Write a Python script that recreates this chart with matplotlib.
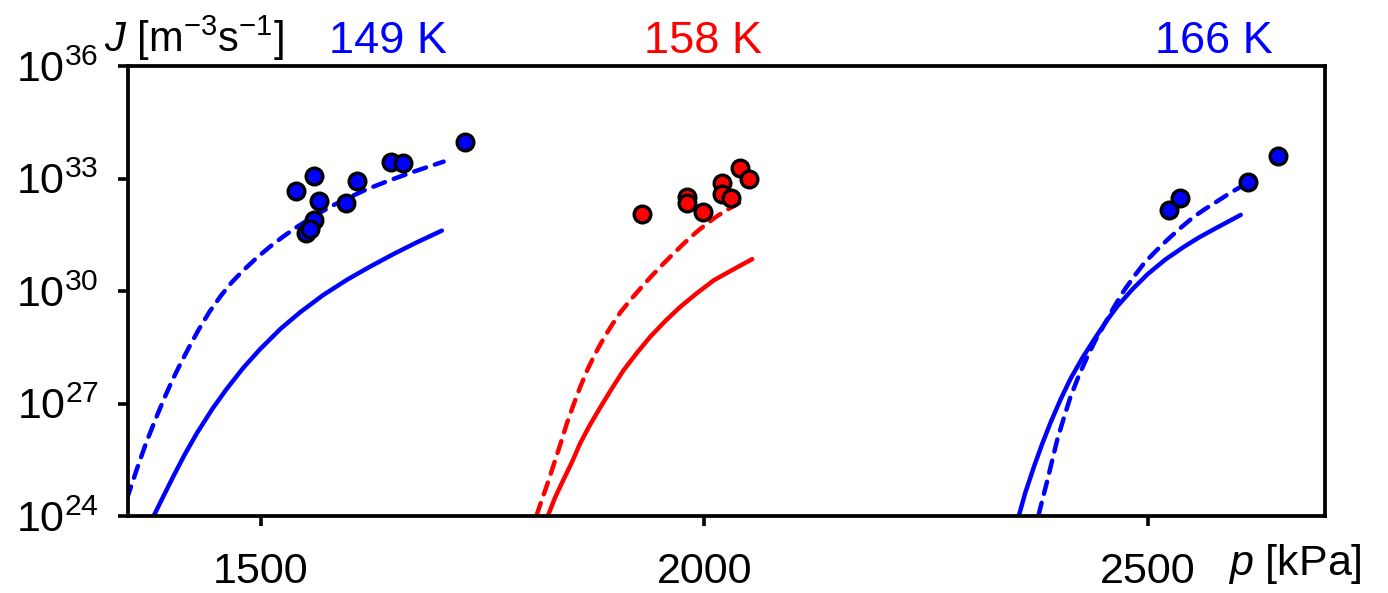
import numpy as np
import matplotlib.pyplot as plt
from matplotlib.ticker import FixedLocator, NullLocator

plt.rcParams['font.family'] = ['Liberation Sans', 'DejaVu Sans']
plt.rcParams['mathtext.fontset'] = 'custom'
plt.rcParams['mathtext.rm'] = 'Liberation Sans'
plt.rcParams['mathtext.it'] = 'Liberation Sans:italic'

# nucleation rate J (log10, m^-3 s^-1) vs pressure p (kPa)
# 149 K
p149_dash = [1349, 1360, 1370, 1380, 1390, 1400, 1410, 1420, 1430, 1442, 1455, 1467,
             1480, 1495, 1510, 1525, 1540, 1560, 1580, 1600, 1620, 1645, 1672, 1706]
J149_dash = [24.47, 25.25, 25.92, 26.52, 27.09, 27.62, 28.10, 28.55, 28.98, 29.45, 29.88, 30.23,
             30.55, 30.88, 31.18, 31.45, 31.70, 32.00, 32.27, 32.50, 32.72, 32.95, 33.18, 33.45]
p149_solid = [1379, 1390, 1401, 1414, 1428, 1445, 1461, 1480, 1499, 1522, 1544, 1570,
              1597, 1623, 1649, 1676, 1704]
J149_solid = [24.0, 24.53, 25.05, 25.64, 26.22, 26.85, 27.38, 27.95, 28.45, 28.99, 29.43, 29.89,
              30.30, 30.65, 30.98, 31.30, 31.61]
p149_exp = [1540, 1560, 1566, 1560, 1551, 1555, 1596, 1608, 1647, 1660, 1730]
J149_exp = [32.67, 33.07, 32.4, 31.89, 31.55, 31.65, 32.35, 32.93, 33.44, 33.41, 33.97]

# 158 K
p158_dash = [1811, 1817, 1823, 1830, 1838, 1845, 1853, 1860, 1868, 1877, 1887, 1896, 1905,
             1917, 1928, 1939, 1951, 1964, 1977, 1990, 2003, 2014, 2026, 2037, 2048]
J158_dash = [24.03, 24.45, 24.85, 25.36, 25.94, 26.47, 27.0, 27.44, 27.89, 28.33, 28.76, 29.1, 29.42,
             29.77, 30.07, 30.36, 30.66, 30.97, 31.27, 31.55, 31.80, 31.99, 32.17, 32.32, 32.45]
p158_solid = [1824, 1832, 1841, 1851, 1860, 1871, 1883, 1896, 1909, 1924, 1939, 1956,
              1973, 1992, 2011, 2033, 2054]
J158_solid = [24.03, 24.51, 24.96, 25.45, 25.94, 26.43, 26.91, 27.41, 27.89, 28.35, 28.78, 29.2,
              29.58, 29.95, 30.29, 30.58, 30.85]
p158_exp = [1930, 1980, 1980, 1999, 2020, 2020, 2030, 2040, 2050]
J158_exp = [32.05, 32.5, 32.34, 32.11, 32.87, 32.59, 32.47, 33.27, 32.98]

# 166 K
p166_dash = [2377, 2382, 2387, 2392, 2398, 2405, 2413, 2422, 2432, 2441, 2451, 2462,
             2473, 2485, 2496, 2509, 2522, 2537, 2552, 2565, 2579, 2592, 2605]
J166_dash = [24.03, 24.50, 24.96, 25.45, 26.03, 26.58, 27.18, 27.72, 28.25, 28.68, 29.10, 29.57,
             30.0, 30.4, 30.74, 31.06, 31.36, 31.68, 31.98, 32.19, 32.40, 32.60, 32.78]
p166_solid = [2355, 2362, 2372, 2381, 2391, 2402, 2413, 2426, 2440, 2453, 2466, 2483,
              2500, 2520, 2541, 2558, 2575, 2590, 2605]
J166_solid = [24.03, 24.62, 25.33, 25.92, 26.52, 27.12, 27.66, 28.2, 28.72, 29.18, 29.6, 30.05,
              30.45, 30.84, 31.18, 31.43, 31.65, 31.84, 32.03]
p166_exp = [2524, 2537, 2613, 2647]
J166_exp = [32.16, 32.47, 32.91, 33.61]

temp_labels = ['149 K', '158 K', '166 K']
temp_label_p = [1643, 1998, 2575]
temp_colors = ['#0000ff', '#ff0000', '#0000ff']

x_ticks = [1500, 2000, 2500]
y_ticks = [24, 27, 30, 33, 36]

fig = plt.figure(figsize=(13.88, 5.93), dpi=100)
ax = fig.add_axes([0.0922, 0.1298, 0.8624, 0.7589])

lw = 3.2
dash = (0, (2.8, 2.1))
series = [
    (p149_dash, J149_dash, p149_solid, J149_solid, p149_exp, J149_exp, '#0000ff'),
    (p158_dash, J158_dash, p158_solid, J158_solid, p158_exp, J158_exp, '#ff0000'),
    (p166_dash, J166_dash, p166_solid, J166_solid, p166_exp, J166_exp, '#0000ff'),
]
for pd, jd, ps, js, pe, je, c in series:
    ax.plot(pd, 10.0 ** np.array(jd), color=c, lw=lw, linestyle=dash,
            dash_capstyle='round', dash_joinstyle='round')
    ax.plot(ps, 10.0 ** np.array(js), color=c, lw=lw,
            solid_capstyle='round', solid_joinstyle='round')
    ax.plot(pe, 10.0 ** np.array(je), 'o', color=c, markersize=12,
            markeredgecolor='black', markeredgewidth=2.4, zorder=5)

ax.set_yscale('log')
ax.set_xlim(1350, 2700)
ax.set_ylim(1e24, 1e36)
ax.xaxis.set_major_locator(FixedLocator(x_ticks))
ax.yaxis.set_major_locator(FixedLocator([10.0 ** e for e in y_ticks]))
ax.yaxis.set_minor_locator(NullLocator())
ax.set_xticklabels([str(v) for v in x_ticks])
ax.set_yticklabels([r'$\mathregular{10^{%d}}$' % e for e in y_ticks])
ax.tick_params(axis='both', direction='out', length=7, width=2.6, labelsize=31)
ax.tick_params(axis='y', pad=14)
ax.tick_params(axis='x', pad=19)
for s in ax.spines.values():
    s.set_linewidth(2.7)

# axis titles sit at the corners, temperatures above the frame
fig.text(0.075, 0.912, r'$\mathit{J}$ [m$^{\mathregular{-3}}$s$^{\mathregular{-1}}$]',
         fontsize=30, ha='left', va='baseline')
label_y = 1.0 + (66 - 53) / 450
for lab, xp, c in zip(temp_labels, temp_label_p, temp_colors):
    ax.text(xp, label_y, lab, transform=ax.get_xaxis_transform(), fontsize=32.5,
            color=c, ha='center', va='baseline')
fig.text(0.885, 0.03, r'$\mathit{p}$ [kPa]', fontsize=31, ha='left', va='baseline')

fig.savefig('out.png', dpi=100, facecolor='white')
